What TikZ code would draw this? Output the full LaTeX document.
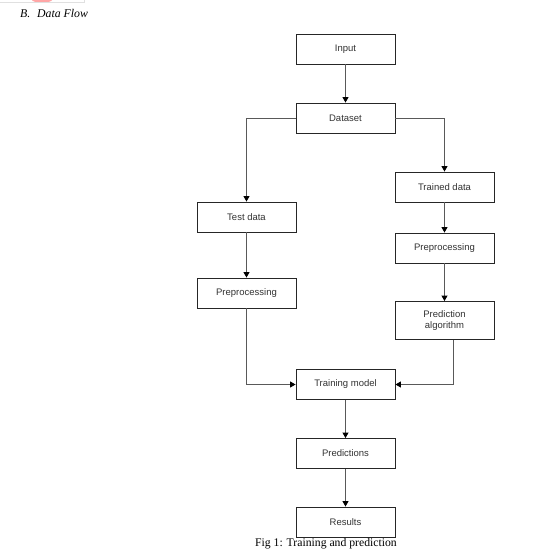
\documentclass[tikz,border=0pt]{standalone}
\usepackage{fontspec}
\setmainfont{Liberation Serif}
\newfontfamily\boxfont{Liberation Sans}
\usetikzlibrary{arrows.meta}
\begin{document}
\begin{tikzpicture}[x=1pt,y=-1pt,
  box/.style={draw=black!85, line width=0.9pt, minimum width=99pt, minimum height=30pt,
    inner sep=0pt, font=\boxfont\fontsize{9.5}{11}\selectfont, align=center, text=black!80},
  flow/.style={draw=black!65, line width=1pt, -{Triangle[length=5.5pt,width=6pt,fill=black,color=black]}}]
\useasboundingbox (0,0) rectangle (538,560);
\fill[white] (0,0) rectangle (538,560);
% top-left artifact
\begin{scope}
\clip (0,0) rectangle (90,3);
\fill[red!35] (42,0) ellipse [x radius=10, y radius=2.5];
\end{scope}
\draw[black!12, line width=0.6pt] (0,2.5) -- (84,2.5) -- (84,0);
\node[anchor=base west, inner sep=0pt] (hdr) at (20,17) {\fontsize{11.8}{13}\selectfont\itshape B.\hspace{6.8pt}Data Flow};

\node[box] (input) at (345.5,49) {Input};
\node[box] (dataset) at (345.5,118) {Dataset};
\node[box] (trained) at (444.5,187) {Trained data};
\node[box] (test) at (246.5,217) {Test data};
\node[box] (prer) at (444.5,248) {Preprocessing};
\node[box] (prel) at (246.5,293) {Preprocessing};
\node[box, minimum height=38pt] (algo) at (444.5,320.5) {Prediction\\algorithm};
\node[box] (train) at (345.5,384.5) {Training model};
\node[box] (pred) at (345.5,453.5) {Predictions};
\node[box] (res) at (345.5,522) {Results};

\draw[flow] (input) -- (dataset);
\draw[flow] (dataset.west) -| (test.north);
\draw[flow] (dataset.east) -| (trained.north);
\draw[flow] (trained) -- (prer);
\draw[flow] (test) -- (prel);
\draw[flow] (prer) -- (algo);
\draw[flow] (prel.south) |- (train.west);
\draw[flow] ([xshift=9pt]algo.south) |- (train.east);
\draw[flow] (train) -- (pred);
\draw[flow] (pred) -- (res);

\node[inner sep=0pt] (cap) at (326,544) {\fontsize{11.7}{13}\selectfont Fig 1: Training and prediction};
\end{tikzpicture}
\end{document}
